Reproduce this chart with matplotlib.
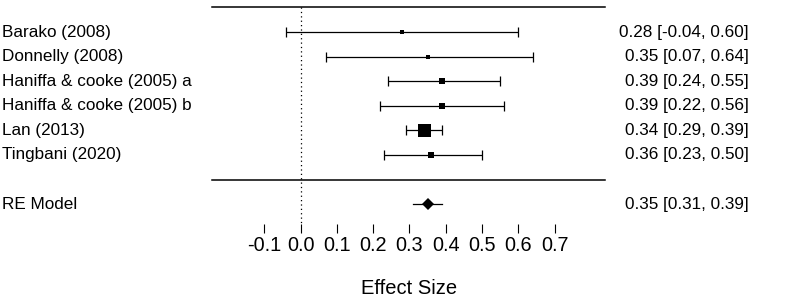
import numpy as np
import matplotlib
matplotlib.use("Agg")
import matplotlib.pyplot as plt

plt.rcParams['font.family'] = ['Liberation Sans', 'DejaVu Sans']

studies = ["Barako (2008)", "Donnelly (2008)", "Haniffa & cooke (2005) a",
           "Haniffa & cooke (2005) b", "Lan (2013)", "Tingbani (2020)"]
est = [0.28, 0.35, 0.39, 0.39, 0.34, 0.36]
lo = [-0.04, 0.07, 0.24, 0.22, 0.29, 0.23]
hi = [0.60, 0.64, 0.55, 0.56, 0.39, 0.50]
re_label = "RE Model"
re_est, re_lo, re_hi = 0.35, 0.31, 0.39
xticks = [-0.1, 0.0, 0.1, 0.2, 0.3, 0.4, 0.5, 0.6, 0.7]
xlabel = "Effect Size"

W, H = 785, 306
fig = plt.figure(figsize=(W / 100, H / 100), dpi=100)
ax_bottom_px = 224
ax = fig.add_axes([0, (H - ax_bottom_px) / H, 1, ax_bottom_px / H])

px_per_unit = 363.0
x0_px = 300.5
ax.set_xlim(-x0_px / px_per_unit, (W - x0_px) / px_per_unit)
row0_px, row_step = 32.0, 24.6
ax.set_ylim((ax_bottom_px - row0_px) / row_step, (0 - row0_px) / row_step)

for s in ax.spines.values():
    s.set_visible(False)
ax.set_yticks([])

k = len(studies)
rows = np.arange(k)
re_row = k + 1

# marker sizes from precision (metafor-style)
se = (np.array(hi) - np.array(lo)) / 3.92
w = 1 / se
norm = (w - w.min()) / (w.max() - w.min())
msize_px = 3.5 + 9.5 * norm

lc = 'black'
lab_x = -0.8223
val_x = 1.2355
fs = 12.3
for i in range(k):
    ax.errorbar(est[i], rows[i], xerr=[[est[i] - lo[i]], [hi[i] - est[i]]],
                fmt='none', ecolor=lc, elinewidth=0.9, capsize=3.6, capthick=0.9)
    ax.plot([est[i]], [rows[i]], marker='s', color=lc, ms=msize_px[i] * 0.72,
            mew=0, linestyle='none')
    ax.text(lab_x, rows[i], studies[i], ha='left', va='center', fontsize=fs)
    ax.text(val_x, rows[i], f"{est[i]:.2f} [{lo[i]:.2f}, {hi[i]:.2f}]",
            ha='right', va='center', fontsize=fs)

ax.plot([re_lo, re_hi], [re_row, re_row], color=lc, lw=0.9)
ax.plot([re_est], [re_row], marker='D', color=lc, ms=6.3, mew=0)
ax.text(lab_x, re_row, re_label, ha='left', va='center', fontsize=fs)
ax.text(val_x, re_row, f"{re_est:.2f} [{re_lo:.2f}, {re_hi:.2f}]",
        ha='right', va='center', fontsize=fs)

xl = (-0.2438, 0.839)
ax.plot(xl, [-1, -1], color=lc, lw=1.1)
ax.plot(xl, [k, k], color=lc, lw=1.1)
ax.plot([0, 0], [-1, 7.805], color=lc, lw=0.9, linestyle=(0, (1, 2.5)))

ax.set_xticks(xticks)
ax.set_xticklabels([f"{t:.1f}" for t in xticks])
ax.tick_params(axis='x', direction='out', length=6.5, width=0.8, pad=2.0,
               labelsize=14.3, color='black')

fig.text((x0_px + 0.3 * px_per_unit) / W, 1 - 288 / H, xlabel,
         ha='center', va='center', fontsize=14.5)

fig.savefig("out.png", dpi=100)
